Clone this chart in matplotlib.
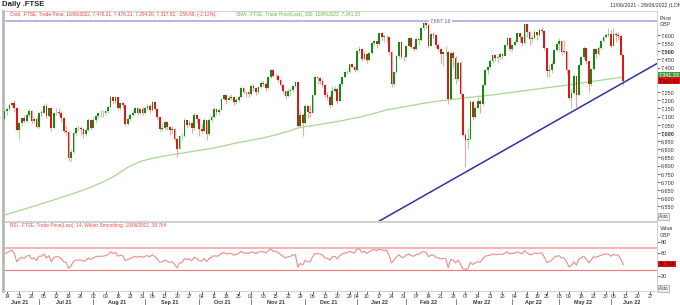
import matplotlib
matplotlib.use("Agg")
import matplotlib.pyplot as plt
import matplotlib.transforms as mtransforms
from matplotlib.ticker import FixedLocator, FuncFormatter
import numpy as np
import pandas as pd

plt.rcParams["font.family"] = ["Liberation Sans", "DejaVu Sans"]

# trading calendar (LSE), data runs 11/06/2021 - 10/06/2022, axis to 29/06/2022
FIRST_DAY = "2021-06-11"
LAST_DAY = "2022-06-29"
HOLIDAYS = ["2021-08-30", "2021-12-27", "2021-12-28", "2022-01-03", "2022-04-15",
            "2022-04-18", "2022-05-02", "2022-06-02", "2022-06-03"]

# daily OHLC, one row per week
opens = [
  7088,
  7134, 7147, 7172, 7185, 7153,
  7017, 7062, 7090, 7074, 7109,
  7136, 7072, 7088, 7037, 7125,
  7123, 7165, 7101, 7151, 7030,
  7121, 7125, 7124, 7091, 7012,
  7008, 6844, 6881, 6998, 7028,
  7028, 7025, 6996, 7016, 7078,
  7032, 7081, 7105, 7123, 7120,
  7122, 7132, 7161, 7220, 7193,
  7219, 7154, 7181, 7169, 7058,
  7087, 7109, 7125, 7150, 7125,
  7148, 7120, 7150, 7164,
  7138, 7187, 7149, 7095, 7024,
  7029, 7068, 7034, 7016, 7027,
  6964, 6903, 6980, 6981, 7078,
  7051, 7064, 7028, 7108, 7086,
  7027, 7011, 7077, 6995, 7078,
  7095, 7147, 7130, 7141, 7208,
  7234, 7203, 7217, 7223, 7190,
  7205, 7223, 7278, 7253, 7249,
  7237, 7288, 7274, 7248, 7280,
  7304, 7300, 7274, 7340, 7385,
  7348, 7352, 7327, 7291, 7256,
  7224, 7255, 7266, 7286, 7310,
  7044, 7110, 7059, 7168, 7129,
  7122, 7232, 7340, 7337, 7321,
  7292, 7231, 7219, 7171, 7260,
  7270, 7198, 7297, 7341, 7373,
  7372, 7420, 7403,
  7384, 7505, 7517, 7450,
  7485, 7445, 7491, 7551, 7563,
  7543, 7612, 7589, 7590, 7585,
  7494, 7297, 7372, 7470, 7555,
  7466, 7464, 7535, 7583, 7529,
  7516, 7573, 7567, 7643, 7672,
  7661, 7531, 7608, 7603, 7537,
  7514, 7484, 7494, 7498, 7207,
  7489, 7458, 7330, 7429, 7238,
  6987, 6959, 6964, 7191, 7099,
  7156, 7193, 7175, 7292, 7385,
  7405, 7442, 7476, 7460, 7467,
  7483, 7474, 7537, 7579, 7515,
  7538, 7559, 7613, 7587, 7551,
  7669, 7618, 7576, 7580,
  7616, 7601, 7629, 7627,
  7522, 7381, 7386, 7425, 7509,
  7545, 7561, 7493, 7503,
  7388, 7216, 7244, 7348, 7233,
  7418, 7464, 7518, 7438, 7302,
  7390, 7514, 7484, 7522, 7564,
  7585, 7600, 7608,
  7532, 7608, 7598, 7593, 7476.21,
]
highs = [
  7140,
  7160, 7180, 7190, 7200, 7160,
  7070, 7100, 7110, 7120, 7145,
  7140, 7100, 7100, 7130, 7140,
  7175, 7185, 7160, 7155, 7130,
  7150, 7150, 7135, 7100, 7040,
  7010, 6900, 7010, 7040, 7050,
  7040, 7030, 7030, 7090, 7085,
  7100, 7110, 7130, 7140, 7140,
  7140, 7170, 7225, 7225, 7225,
  7220, 7190, 7190, 7170, 7100,
  7125, 7140, 7160, 7160, 7155,
  7160, 7160, 7180, 7175,
  7195, 7190, 7150, 7100, 7060,
  7080, 7075, 7040, 7040, 7030,
  6970, 6990, 7000, 7090, 7080,
  7080, 7070, 7120, 7115, 7090,
  7060, 7090, 7080, 7090, 7110,
  7160, 7150, 7150, 7215, 7240,
  7235, 7230, 7240, 7225, 7215,
  7230, 7290, 7280, 7260, 7260,
  7300, 7300, 7280, 7290, 7320,
  7320, 7310, 7345, 7390, 7390,
  7370, 7360, 7330, 7300, 7260,
  7270, 7275, 7295, 7320, 7310,
  7140, 7120, 7180, 7170, 7170,
  7240, 7350, 7345, 7345, 7330,
  7300, 7250, 7230, 7290, 7290,
  7275, 7300, 7345, 7380, 7385,
  7425, 7430, 7410,
  7510, 7530, 7520, 7500,
  7490, 7495, 7560, 7570, 7565,
  7615, 7620, 7600, 7600, 7585,
  7500, 7380, 7480, 7560, 7560,
  7480, 7540, 7590, 7585, 7540,
  7580, 7580, 7650, 7687, 7680,
  7665, 7615, 7620, 7605, 7550,
  7520, 7500, 7530, 7500, 7500,
  7500, 7470, 7440, 7440, 7240,
  7000, 7030, 7200, 7200, 7170,
  7230, 7200, 7300, 7390, 7410,
  7450, 7480, 7480, 7475, 7490,
  7490, 7545, 7590, 7580, 7545,
  7570, 7620, 7615, 7590, 7675,
  7670, 7625, 7600, 7630,
  7620, 7640, 7650, 7630,
  7525, 7420, 7440, 7515, 7550,
  7580, 7570, 7570, 7505,
  7390, 7270, 7360, 7350, 7425,
  7470, 7530, 7520, 7440, 7400,
  7520, 7520, 7530, 7570, 7590,
  7610, 7640, 7630,
  7640, 7620, 7620, 7600, 7476.21,
]
lows = [
  7080,
  7110, 7140, 7160, 7130, 7010,
  6965, 7040, 7060, 7070, 7100,
  7060, 7060, 7030, 7030, 7100,
  7120, 7090, 7095, 7010, 7025,
  7110, 7110, 7070, 7000, 6990,
  6830, 6820, 6875, 6990, 7010,
  6990, 6970, 6980, 7010, 7020,
  7030, 7060, 7090, 7100, 7100,
  7110, 7125, 7155, 7180, 7185,
  7140, 7140, 7150, 7040, 7050,
  7080, 7100, 7115, 7110, 7115,
  7110, 7115, 7140, 7125,
  7135, 7140, 7080, 7010, 7015,
  7020, 7020, 6990, 7000, 6950,
  6850, 6900, 6960, 6975, 7030,
  7040, 7000, 7020, 7060, 6980,
  7000, 7005, 6960, 6990, 7070,
  7090, 7110, 7110, 7140, 7200,
  7180, 7200, 7200, 7170, 7180,
  7190, 7220, 7240, 7220, 7220,
  7235, 7260, 7230, 7240, 7275,
  7290, 7260, 7270, 7335, 7340,
  7330, 7310, 7280, 7240, 7210,
  7220, 7230, 7250, 7280, 7030,
  7040, 6980, 7055, 7090, 7100,
  7120, 7230, 7300, 7300, 7280,
  7220, 7200, 7150, 7165, 7250,
  7180, 7195, 7290, 7335, 7360,
  7370, 7395, 7375,
  7380, 7490, 7440, 7445,
  7430, 7440, 7485, 7540, 7520,
  7540, 7570, 7560, 7560, 7480,
  7280, 7290, 7370, 7460, 7450,
  7440, 7460, 7530, 7520, 7500,
  7510, 7540, 7565, 7630, 7640,
  7520, 7530, 7580, 7520, 7500,
  7430, 7410, 7480, 7180, 7200,
  7400, 7300, 7320, 7220, 6980,
  6790, 6900, 6960, 7080, 7090,
  7150, 7120, 7170, 7285, 7360,
  7390, 7430, 7440, 7430, 7450,
  7450, 7470, 7530, 7500, 7500,
  7530, 7555, 7560, 7530, 7545,
  7590, 7540, 7550, 7575,
  7570, 7595, 7610, 7510,
  7340, 7340, 7370, 7420, 7500,
  7500, 7480, 7490, 7360,
  7200, 7150, 7240, 7160, 7230,
  7410, 7455, 7420, 7250, 7290,
  7385, 7460, 7480, 7515, 7560,
  7580, 7590, 7520,
  7530, 7560, 7570, 7470, 7294.20,
]
closes = [
  7134,
  7147, 7172, 7185, 7153, 7017,
  7062, 7090, 7074, 7109, 7136,
  7072, 7088, 7037, 7125, 7123,
  7165, 7101, 7151, 7030, 7121,
  7125, 7124, 7091, 7012, 7008,
  6844, 6881, 6998, 7028, 7028,
  7025, 6996, 7016, 7078, 7032,
  7081, 7105, 7123, 7120, 7122,
  7132, 7161, 7220, 7193, 7219,
  7154, 7181, 7169, 7058, 7087,
  7109, 7125, 7150, 7125, 7148,
  7120, 7150, 7164, 7138,
  7187, 7149, 7095, 7024, 7029,
  7068, 7034, 7016, 7027, 6964,
  6903, 6980, 6981, 7078, 7051,
  7064, 7028, 7108, 7086, 7027,
  7011, 7077, 6995, 7078, 7095,
  7147, 7130, 7141, 7208, 7234,
  7203, 7217, 7223, 7190, 7205,
  7223, 7278, 7253, 7249, 7237,
  7288, 7274, 7248, 7280, 7304,
  7300, 7274, 7340, 7385, 7348,
  7352, 7327, 7291, 7256, 7224,
  7255, 7266, 7286, 7310, 7044,
  7110, 7059, 7168, 7129, 7122,
  7232, 7340, 7337, 7321, 7292,
  7231, 7219, 7171, 7260, 7270,
  7198, 7297, 7341, 7373, 7372,
  7420, 7403, 7384,
  7505, 7517, 7450, 7485,
  7445, 7491, 7551, 7563, 7543,
  7612, 7589, 7590, 7585, 7494,
  7297, 7372, 7470, 7555, 7466,
  7464, 7535, 7583, 7529, 7516,
  7573, 7567, 7643, 7672, 7661,
  7531, 7608, 7603, 7537, 7514,
  7484, 7494, 7498, 7207, 7489,
  7458, 7330, 7429, 7238, 6987,
  6959, 6964, 7191, 7099, 7156,
  7193, 7175, 7292, 7385, 7405,
  7442, 7476, 7460, 7467, 7483,
  7474, 7537, 7579, 7515, 7538,
  7559, 7613, 7587, 7551, 7669,
  7618, 7576, 7580, 7616,
  7601, 7629, 7627, 7522,
  7381, 7386, 7425, 7509, 7545,
  7561, 7493, 7503, 7388,
  7216, 7244, 7348, 7233, 7418,
  7464, 7518, 7438, 7302, 7390,
  7514, 7484, 7522, 7564, 7585,
  7600, 7608, 7532,
  7608, 7598, 7593, 7476, 7317.52,
]
rsi = [
  60,
  61, 64, 66, 60, 45,
  50, 53, 51, 55, 57,
  50, 52, 47, 55, 55,
  59, 52, 56, 45, 53,
  54, 54, 51, 45, 44,
  33, 37, 46, 48, 48,
  48, 46, 47, 52, 49,
  52, 54, 55, 55, 55,
  56, 58, 63, 60, 62,
  55, 57, 56, 47, 49,
  51, 53, 55, 53, 55,
  53, 55, 56, 54,
  58, 54, 50, 44, 45,
  48, 46, 44, 45, 40,
  34, 43, 43, 51, 49,
  50, 47, 53, 51, 47,
  46, 51, 45, 51, 53,
  56, 55, 56, 60, 62,
  59, 60, 60, 57, 58,
  60, 64, 61, 61, 60,
  63, 62, 60, 62, 64,
  63, 61, 65, 68, 64,
  64, 62, 58, 55, 52,
  54, 55, 57, 58, 35,
  42, 39, 48, 45, 45,
  54, 60, 60, 59, 57,
  52, 51, 48, 54, 55,
  50, 56, 59, 61, 61,
  64, 62, 61,
  68, 68, 62, 64,
  60, 63, 66, 67, 65,
  68, 66, 66, 66, 57,
  43, 48, 54, 58, 53,
  53, 57, 59, 56, 55,
  58, 58, 62, 63, 62,
  54, 57, 57, 53, 52,
  50, 51, 51, 34, 49,
  48, 43, 48, 40, 32,
  31, 32, 44, 40, 43,
  45, 44, 50, 55, 56,
  57, 59, 58, 58, 59,
  58, 61, 63, 59, 60,
  61, 63, 61, 59, 65,
  61, 58, 58, 61,
  60, 61, 61, 53,
  44, 45, 48, 53, 55,
  56, 52, 52, 45,
  36, 38, 45, 39, 50,
  52, 55, 50, 43, 48,
  54, 53, 55, 57, 58,
  59, 59, 55,
  58, 57, 57, 50, 39.764,
]

# 200-day SMA at every 5th trading day
sma_days = [0, 5, 10, 15, 20, 25, 30, 35, 40, 45, 50, 55, 60, 65, 70, 75, 80, 85,
            90, 95, 100, 105, 110, 115, 120, 125, 130, 135, 140, 145, 150, 155,
            160, 165, 170, 175, 180, 185, 190, 195, 200, 205, 210, 215, 220,
            225, 230, 235, 240, 245, 251]
sma_values = [6498, 6520, 6543, 6566, 6590, 6614, 6640, 6668, 6700, 6740, 6790,
              6825, 6845, 6859, 6872, 6884, 6896, 6908, 6925, 6942, 6955, 6970,
              6988, 7010, 7035, 7045, 7058, 7070, 7085, 7100, 7120, 7141, 7155,
              7168, 7182, 7193, 7203, 7212, 7220, 7228, 7237, 7247, 7257, 7267,
              7277, 7287, 7297, 7308, 7319, 7330, 7341.33]

# hand-drawn support line and the high marker
trend_dates = ["2022-03-07", "2022-06-10"]
trend_prices = [6760, 7308]
HIGH_LEVEL = 7687.16

price_ticks = [6550, 6600, 6650, 6700, 6750, 6800, 6850, 6900, 6950, 7000, 7050,
               7100, 7150, 7200, 7250, 7400, 7450, 7500, 7550, 7600]
rsi_ticks = [20, 60, 80]

W, H = 680, 305
GREEN = "#138a13"
RED = "#dd1717"
GREEN_WICK = "#a9d6a3"
RED_WICK = "#f4a3a3"
FRAME = "#c9c9c9"
TXT = "#333333"


def fx(px):
  return px / W


def fy(py):
  return 1 - py / H


days = pd.bdate_range(FIRST_DAY, LAST_DAY)
days = days[~days.isin(pd.to_datetime(HOLIDAYS))]
pos = {d: i for i, d in enumerate(days)}

o, h, l, c = (np.array(v, dtype=float) for v in (opens, highs, lows, closes))
x = np.arange(len(c))
up = c >= o

fig = plt.figure(figsize=(W / 100, H / 100), dpi=100)
ax = fig.add_axes([fx(3), fy(221), fx(654), 210 / H])
ax_rsi = fig.add_axes([fx(3), fy(291), fx(654), 69 / H], sharex=ax)

# --- price panel ---
ax.vlines(x[up], l[up], h[up], color=GREEN_WICK, lw=0.8, zorder=2)
ax.vlines(x[~up], l[~up], h[~up], color=RED_WICK, lw=0.8, zorder=2)
ax.bar(x, np.maximum(np.abs(c - o), 2.5), bottom=np.minimum(o, c), width=0.7,
       color=np.where(up, GREEN, RED), linewidth=0, zorder=3)
ax.plot(sma_days, sma_values, color="#a8d890", lw=0.9, zorder=1)
ax.axhline(HIGH_LEVEL, color="#a9a9e0", lw=1.2, zorder=1)
ax.text(177, HIGH_LEVEL, f"{HIGH_LEVEL:,.2f}", fontsize=4, color="#5a5aa8",
        ha="center", va="center", zorder=4,
        bbox=dict(fc="white", ec="none", pad=0.6))
t_idx = [pos[pd.Timestamp(d)] for d in trend_dates]
ax.axline((t_idx[0], trend_prices[0]), (t_idx[1], trend_prices[1]),
          color="#3030a8", lw=1.1, zorder=4)

ax.set_ylim(6461, 7747)
ax.set_xlim(-0.6, 264.7)
ax.yaxis.tick_right()
ax.yaxis.set_major_locator(FixedLocator(price_ticks))
ax.yaxis.set_major_formatter(FuncFormatter(lambda v, _: f"{v:,.0f}"))
ax.tick_params(axis="y", length=2, width=0.5, pad=1, labelsize=4,
               colors=TXT)
ax.tick_params(axis="x", bottom=False, labelbottom=False)
for lab, v in zip(ax.get_yticklabels(), price_ticks):
  if v % 500 == 0:
    lab.set_fontweight("bold")

# --- RSI panel ---
ax_rsi.axhline(70, color="#f7b4b4", lw=1.4)
ax_rsi.axhline(30, color="#f07a7a", lw=0.8)
ax_rsi.plot(x, rsi, color="#f08a8a", lw=0.8)
ax_rsi.set_ylim(-8, 117)
ax_rsi.yaxis.tick_right()
ax_rsi.set_yticks(rsi_ticks)
ax_rsi.tick_params(axis="y", length=2, width=0.5, pad=1, labelsize=4,
                   colors=TXT)

for a in (ax, ax_rsi):
  for side in ("top", "right", "bottom"):
    a.spines[side].set_color(FRAME)
    a.spines[side].set_linewidth(0.6)
  a.spines["left"].set_color("#b8b8b8")
  a.spines["left"].set_linewidth(2)

# week ticks (first trading day of each week) and month row
week_pos = [i for i in range(1, len(days))
            if days[i].isocalendar()[1] != days[i - 1].isocalendar()[1]]
ax_rsi.set_xticks(week_pos)
ax_rsi.set_xticklabels([days[i].strftime("%d") for i in week_pos])
ax_rsi.tick_params(axis="x", length=2, width=0.5, pad=0.5, labelsize=3.6,
                   colors=TXT)

month_pos = [0] + [i for i in range(1, len(days)) if days[i].month != days[i - 1].month]
month_end = month_pos[1:] + [264.7]
trans = mtransforms.blended_transform_factory(ax_rsi.transData, ax_rsi.transAxes)
for start, end in zip(month_pos, month_end):
  ax_rsi.text((max(start, -0.6) + end) / 2 - 1, -0.16, days[start].strftime("%b %y"),
              transform=trans, ha="center", va="center", fontsize=3.9,
              fontweight="bold", color=TXT)
  if start > 0:
    ax_rsi.plot([start, start], [-0.11, -0.2], transform=trans, clip_on=False,
                color="#555555", lw=0.5)

# --- labels and boxes ---
fig.text(fx(2), fy(5), "Daily .FTSE", fontsize=5.6, fontweight="bold",
         color="#222222", va="center")
fig.text(fx(610), fy(5), "11/06/2021 - 29/06/2022 (LON", fontsize=3.8,
         color=TXT, va="center")
fig.text(fx(10), fy(14.5),
         "Cndl, .FTSE, Trade Price, 10/06/2022, 7,476.21, 7,476.21, 7,294.20, "
         "7,317.52, -158.69, (-2.12%),", fontsize=3.4, color="#ee3c3c", va="center")
fig.text(fx(236), fy(14.5),
         "SMA, .FTSE, Trade Price(Last), 200, 10/06/2022, 7,341.33",
         fontsize=3.4, color="#62b843", va="center")
fig.text(fx(10), fy(225.5),
         "RSI, .FTSE, Trade Price(Last), 14, Wilder Smoothing, 10/06/2022, 39.764",
         fontsize=3.4, color="#ee4a4a", va="center")

fig.text(fx(660), fy(18.5), "Price", fontsize=3.8, color=TXT, va="center")
fig.text(fx(660), fy(25), "GBP", fontsize=3.8, color=TXT, va="center")
fig.text(fx(660), fy(229), "Value", fontsize=3.8, color=TXT, va="center")
fig.text(fx(660), fy(235.5), "GBP", fontsize=3.8, color=TXT, va="center")

fig.text(fx(659), fy(75), f"{sma_values[-1]:,.2f}", fontsize=3.8, color="white",
         va="center", bbox=dict(fc="#3f9e3f", ec="none", pad=0.7))
fig.text(fx(659), fy(80.5), f"{closes[-1]:,.2f}", fontsize=3.8, color="#1a0000",
         va="center", bbox=dict(fc="#e41010", ec="none", pad=0.7))
fig.text(fx(659), fy(264), f"{rsi[-1]:.3f}", fontsize=3.8, color="#1a0000",
         va="center", bbox=dict(fc="#e41010", ec="none", pad=0.7))

for yy in (216.5, 288.5):
  fig.text(fx(659), fy(yy), "Auto", fontsize=3.3, color="#444444", va="center",
           bbox=dict(fc="#eeeeee", ec="#888888", lw=0.4, pad=0.4))

fig.savefig("out.png", dpi=100)
